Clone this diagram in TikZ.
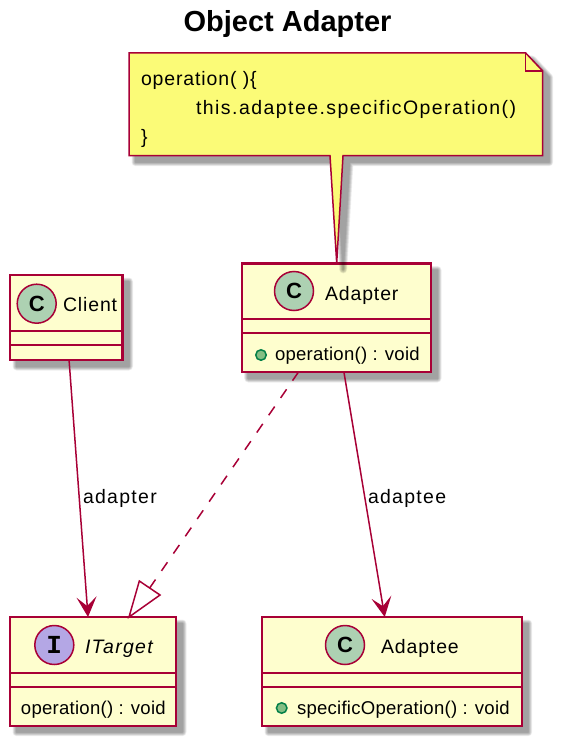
\documentclass[tikz,border=0pt]{standalone}
\usepackage{fontspec}
\usetikzlibrary{arrows.meta,calc}
\setmainfont{Liberation Sans}
\newfontfamily\spacedfont[LetterSpace=4.5]{Liberation Sans}
\newfontfamily\labelfont[LetterSpace=6.7]{Liberation Sans}
\newfontfamily\notefont[LetterSpace=7.5]{Liberation Sans}
\newfontfamily\memberfont[LetterSpace=1.4]{Liberation Sans}
\newfontfamily\glyphfont{Liberation Mono}
\definecolor{plumline}{HTML}{A80036}
\definecolor{classfill}{HTML}{FEFECE}
\definecolor{notefill}{HTML}{FBFB77}
\definecolor{cgreen}{HTML}{ADD1B2}
\definecolor{ipurple}{HTML}{B4A7E5}
\definecolor{dotfill}{HTML}{84BE84}
\definecolor{dotline}{HTML}{038048}
\newlength\px \setlength\px{0.75pt}
\newcommand\softshadow[1]{\foreach \w in {8,7,6,5,4,3,2,1}{\begin{scope}[transparency group,opacity=.055,xshift=6.5\px,yshift=-6.5\px]\draw[draw=black,fill=black,line width=\w\px,line join=round] #1;\end{scope}}}
% name, x1,y1,x2,y2, line1, line2
\newcommand\classbox[7]{%
  \softshadow{(#2,#3) rectangle (#4,#5)}
  \node[classnode,minimum width={(#4-#2)*0.75pt},minimum height={(#5-#3)*0.75pt}] (#1) at ({(#2+#4)/2},{(#3+#5)/2}) {};
  \draw[classrule] (#1.west |- 0,#6) -- (#1.east |- 0,#6);
  \draw[classrule] (#1.west |- 0,#7) -- (#1.east |- 0,#7);
}
\tikzset{
  classnode/.style={draw=plumline,fill=classfill,line width=2.25\px,inner sep=0pt,outer sep=0pt,rectangle},
  classrule/.style={draw=plumline,line width=2.25\px},
  badge/.style={circle,draw=plumline,line width=1.5\px,minimum size=39\px,inner sep=0pt,outer sep=0pt,font=\bfseries\fontsize{16.5pt}{18pt}\selectfont},
  memberdot/.style={circle,draw=dotline,fill=dotfill,line width=1.5\px,minimum size=10.5\px,inner sep=0pt},
  txt/.style={anchor=base west,inner sep=0pt,outer sep=0pt,text=black},
  classname/.style={txt,font=\spacedfont\fontsize{14.6pt}{16pt}\selectfont},
  edgelabel/.style={txt,font=\labelfont\fontsize{14.6pt}{16pt}\selectfont},
  member/.style={txt,font=\memberfont\fontsize{13.9pt}{16pt}\selectfont},
  notetext/.style={txt,font=\notefont\fontsize{14.6pt}{16pt}\selectfont},
  link/.style={draw=plumline,line width=1.5\px},
  vee/.style={-{Stealth[length=15pt,width=15pt,inset=6.75pt]}},
}
\begin{document}
\begin{tikzpicture}[x=0.75pt,y=-0.75pt]
\useasboundingbox (0,0) rectangle (561,742);
\node[anchor=base,inner sep=0pt,font=\bfseries\fontsize{21.75pt}{24pt}\selectfont] (title) at (287.5,31.5) {Object Adapter};

\classbox{client}{10}{275}{122.5}{360}{331}{345}
\node[badge,fill=cgreen] (cbadge) at (36.7,303.7) {C};
\node[classname] (cname) at (63,311.7) {Client};

\classbox{itarget}{10}{617}{176}{725.7}{673}{687}
\node[badge,fill=ipurple,font=\glyphfont\bfseries\fontsize{19.5pt}{20pt}\selectfont] (ibadge) at (54.3,645) {I};
\node[classname,font=\labelfont\itshape\fontsize{14.6pt}{16pt}\selectfont] (iname) at (85,653.3) {ITarget};
\node[member] (iop) at (21,714.5) {operation() : void};

\classbox{adaptee}{262}{617}{521.7}{725.7}{673}{687}
\node[badge,fill=cgreen] (abadge) at (345,645) {C};
\node[classname] (aname) at (381,653.3) {Adaptee};
\node[memberdot] (adot) at (281.7,708) {};
\node[member] (aop) at (297,714.5) {specificOperation() : void};

\classbox{adapter}{241.7}{263.5}{431}{372}{319}{333}
\node[badge,fill=cgreen] (pbadge) at (294,291) {C};
\node[classname] (pname) at (325,300) {Adapter};
\node[memberdot] (pdot) at (261,355) {};
\node[member] (pop) at (275,360.5) {operation() : void};

% note
\softshadow{(129,53) -- (525.7,53) -- (542.7,71) -- (542.7,155.7) -- (343,155.7) -- (336.7,263) -- (330,155.7) -- (129,155.7) -- cycle}
\draw[draw=plumline,fill=notefill,line width=1.5\px,line join=miter] (129,53) -- (525.7,53) -- (542.7,71) -- (542.7,155.7) -- (343,155.7) -- (336.7,263) -- (330,155.7) -- (129,155.7) -- cycle;
\draw[draw=plumline,line width=1.5\px] (525.7,53) -- (525.7,71) -- (542.7,71);
\node[notetext,font=\spacedfont\fontsize{14.6pt}{16pt}\selectfont] (n1) at (141,85) {operation( )\{};
\node[notetext] (n2) at (196,114) {this.adaptee.specificOperation()};
\node[notetext] (n3) at (141,143) {\}};

% connectors
\draw[link,vee] ($(client.south west)!0.525!(client.south east)$) -- ($(itarget.north west)!0.47!(itarget.north east)$);
\node[edgelabel] (l1) at (83,503) {adapter};
\draw[link,vee] ($(adapter.south west)!0.54!(adapter.south east)$) -- ($(adaptee.north west)!0.4725!(adaptee.north east)$);
\node[edgelabel] (l2) at (368,503) {adaptee};
\coordinate (tip) at ($(itarget.north west)!0.717!(itarget.north east)$);
\coordinate (wingA) at ($(tip)+(10.3,-36)$);
\coordinate (wingB) at ($(tip)+(31,-22)$);
\coordinate (basemid) at ($(wingA)!0.5!(wingB)$);
\draw[link,dash pattern=on 10.5\px off 10.5\px] ($(adapter.south west)!0.30!(adapter.south east)$) -- (basemid);
\draw[link,fill=white,line join=miter] (tip) -- (wingA) -- (wingB) -- cycle;
\end{tikzpicture}
\end{document}
